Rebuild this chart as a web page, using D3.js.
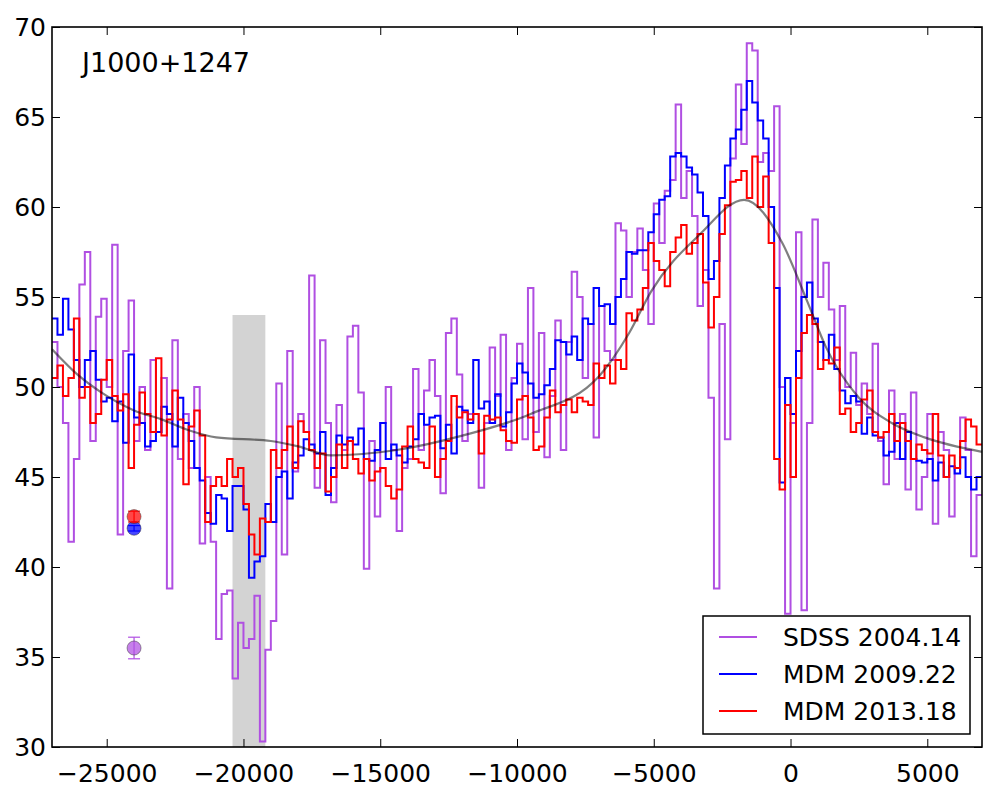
<!DOCTYPE html>
<html>
<head>
<meta charset="utf-8">
<script src="https://cdn.jsdelivr.net/npm/d3@7"></script>
<style>
    body { margin: 0; background: #fff; }
    text { font-family: "DejaVu Sans", sans-serif; fill: #000; }
</style>
</head>
<body>
<div id="chart"></div>
<script>
// velocity grid of the spectra (km/s), one value per 200 km/s bin
const binStart = -27000;
const binWidth = 200;

const sdssFlux = [
    52.5, 50, 48, 41.4, 46, 55.7, 57.5, 47, 53.9, 54.9,
    50, 57.9, 41.8, 52, 54.8, 47, 50, 46.5, 51.5, 47.5,
    50.5, 38.8, 52.6, 46, 48.5, 45.5, 50, 41.3, 45, 41.4,
    36, 38.5, 38.7, 33.8, 36.9, 35.5, 36, 38.4, 30.3, 35.4,
    37, 50.2, 40.7, 52, 45.3, 48.5, 47.5, 56.2, 44.4, 52.6,
    48, 43.6, 49, 46.5, 52.8, 53.4, 49.7, 39.9, 47, 42.8,
    48, 50, 46.5, 42, 45.5, 46, 51, 46.5, 49.8, 51.5,
    49.5, 44.1, 53, 53.8, 50.7, 47, 48.5, 48.5, 44.4, 48,
    52.2, 49.5, 52.9, 46.5, 50.5, 52.4, 47.1, 55.5, 47.5, 53,
    46.1, 49.5, 53.7, 46.5, 52.5, 56.4, 55, 50.5, 53.5, 47.2,
    54.5, 52, 51.5, 59.1, 58.7, 55, 57.5, 58.8, 56.5, 53.5,
    60.2, 58, 60.9, 61.5, 65.7, 60.5, 62, 59.5, 54.5, 56.5,
    49.4, 38.8, 53.5, 47.1, 62.7, 66.8, 63.5, 69.1, 68.7, 62.5,
    63, 62, 65.6, 50, 37.4, 48, 58.6, 37.6, 48, 59.3,
    55, 56.9, 54.3, 51.5, 54.5, 50, 51.9, 49, 50.2, 48.5,
    52.4, 47, 44.6, 49.8, 46, 48.5, 44.3, 49.7, 43.2, 45,
    48.5, 42.4, 47.5, 46.5, 42.8, 45.5, 48.3, 46.5, 40.6, 44
];

const mdm2009Flux = [
    53.8, 52.9, 54.9, 53.2, 51.5, 50, 51.5, 52, 50.4, 49.2,
    49.4, 48.1, 49.2, 46.9, 51.8, 48.3, 48, 46.7, 47, 47.5,
    48.9, 48.5, 46.7, 49.4, 48, 47, 45.5, 44.8, 43, 42.4,
    44, 43.8, 42, 44.5, 44.5, 43.2, 39.4, 40.3, 40.6, 43.5,
    42.5, 45, 45.3, 43.8, 45.8, 46.2, 47.1, 46.8, 46.3, 47.5,
    44, 45.5, 47.3, 46.8, 47.2, 46.8, 47.7, 46, 45.9, 46.5,
    48, 46, 46.8, 46.2, 45.8, 46.7, 47.1, 48.5, 47.9, 48.3,
    48.4, 46.6, 47.9, 46.3, 48.9, 48.7, 48, 51.5, 48.8, 49.2,
    48, 49.6, 47.8, 48.6, 50.2, 51.3, 50.8, 50.2, 49.4, 49.6,
    50.1, 51, 52.6, 52.5, 51.8, 52.8, 51.5, 53.8, 53.5, 55.5,
    54.5, 54.6, 53.5, 55, 56, 57.5, 57.4, 57.6, 57.6, 58.6,
    59.6, 60.4, 60.6, 62.8, 63, 62.8, 62.2, 61.8, 60.8, 59.5,
    56, 57, 60.5, 62.3, 63.8, 64.3, 65.4, 67, 65.8, 64.8,
    63.8, 60, 55.5, 44.7, 50.5, 48.5, 52, 55, 55.8, 53.8,
    52.5, 51.5, 52.9, 51, 49.8, 49.1, 49.5, 49.2, 47.4, 48.3,
    47.3, 47.2, 46.2, 46.4, 48, 46, 47.5, 46, 45.9, 45.8,
    46, 44.8, 45.8, 45, 45.6, 45.2, 46.1, 45, 44.3, 45
];

const mdm2013Flux = [
    50.5, 51.2, 49.5, 50.5, 53.8, 49.4, 50, 48, 48.5, 50.4,
    51.5, 49.5, 48.7, 49.6, 45.5, 47.9, 49.7, 48.5, 47.5, 51.6,
    47.3, 48.2, 49.8, 48.2, 44.6, 47.8, 48.7, 47.3, 42.5, 44.5,
    45, 44.5, 46, 45, 45.5, 43.5, 41.8, 40.7, 42.7, 42.5,
    46.5, 45.5, 46.5, 47.8, 45.5, 48.1, 47.5, 46.5, 45.5, 46.3,
    44.2, 45, 46.8, 45.5, 47, 46, 45.2, 46, 44.8, 45.3,
    45.5, 44.5, 43.8, 44.3, 46.7, 47.8, 46, 45.8, 45.5, 47.8,
    45, 46, 47, 49.5, 48.3, 48.6, 48.2, 48.5, 46.3, 48.4,
    48.2, 48.3, 47.6, 47, 46.9, 49.3, 49.5, 48.3, 46.5, 46.7,
    48.3, 49.8, 48.6, 49, 49.3, 48.6, 49.4, 49.2, 49, 51.3,
    50.5, 51.2, 50.2, 51.5, 51, 54.1, 53.7, 54.3, 55.5, 58,
    57, 56.5, 55.6, 57.5, 58.3, 59, 57.4, 58, 58.5, 55.8,
    53.3, 55, 58.5, 60.1, 61.4, 61.5, 62, 60.5, 62.8, 60,
    61.7, 58, 46, 44.3, 49, 45, 50.5, 53, 54, 53.5,
    51, 51.5, 51.3, 52.2, 48.5, 48.8, 47.5, 48, 49.3, 49.8,
    47.5, 47.2, 47.5, 48.5, 47, 48, 47, 46, 46.8, 46.5,
    46.3, 48.5, 46.2, 45, 46.2, 45.5, 47, 48.2, 47.8, 46.8
];

// smooth model fit, read at a few velocities
const fitVelocity = [-27000, -26000, -25200, -24000, -23000, -22000, -21000, -19000, -18000, -16800,
    -14400, -12000, -9500, -7000, -5900, -5100, -3300, -1700, -300, 600, 1300, 2500, 3700, 4900, 7000];
const fitFlux = [52.1, 50.6, 49.7, 48.7, 48.2, 47.6, 47.2, 47.0, 46.7, 46.2,
    46.5, 47.3, 48.5, 50.6, 53, 55.3, 58.5, 60.4, 58, 54.8, 52.2, 49.4, 48, 47.2, 46.4];

// continuum photometry points at one velocity
const pointVelocity = -24000;
const pointFlux = [35.5, 42.15, 42.8];
const pointErr = [0.6, 0.15, 0.3];

const seriesNames = ['SDSS 2004.14', 'MDM 2009.22', 'MDM 2013.18'];
const seriesColors = ['#b04fe2', '#0000ff', '#ff0000'];

const bandEdges = [-20400, -19200];
const bandTop = 54;

const xTicks = [-25000, -20000, -15000, -10000, -5000, 0, 5000];
const yTicks = [30, 35, 40, 45, 50, 55, 60, 65, 70];
const title = 'J1000+1247';


class SpectrumChart
{
    constructor(containerId)
    {
        this.width = 998;
        this.height = 801;
        this.left = 52;
        this.top = 27;
        this.plotWidth = 930;
        this.plotHeight = 720;

        this.x = d3.scaleLinear()
            .domain([-27000, 7000])
            .range([0, this.plotWidth]);
        this.y = d3.scaleLinear()
            .domain([30, 70])
            .range([this.plotHeight, 0]);

        this.svg = d3.select('#' + containerId)
            .append('svg')
            .attr('width', this.width)
            .attr('height', this.height);

        this.svg.append('defs')
            .append('clipPath')
            .attr('id', 'plot-clip')
            .append('rect')
            .attr('width', this.plotWidth)
            .attr('height', this.plotHeight);

        this.g = this.svg.append('g')
            .attr('transform', `translate(${this.left},${this.top})`);

        this.drawBand();
        this.drawSpectra();
        this.drawFit();
        this.drawPoints();
        this.drawAxes();
        this.drawLegend();
    }

    drawBand()
    {
        this.g.append('rect')
            .attr('x', this.x(bandEdges[0]))
            .attr('y', this.y(bandTop))
            .attr('width', this.x(bandEdges[1]) - this.x(bandEdges[0]))
            .attr('height', this.y(30) - this.y(bandTop))
            .style('fill', '#d3d3d3');
    }

    drawSpectra()
    {
        const step = d3.line()
            .x(d => this.x(d[0]))
            .y(d => this.y(d[1]))
            .curve(d3.curveStepAfter);

        const allFlux = [sdssFlux, mdm2009Flux, mdm2013Flux];
        const spectra = allFlux.map(values =>
        {
            let pts = values.map((v, i) => [binStart + i * binWidth, v]);
            pts.push([binStart + values.length * binWidth, values[values.length - 1]]);
            return pts;
        });

        this.g.append('g')
            .attr('clip-path', 'url(#plot-clip)')
            .selectAll('path')
            .data(spectra)
            .join('path')
            .attr('d', step)
            .style('fill', 'none')
            .style('stroke', (d, i) => seriesColors[i])
            .style('stroke-width', 2)
            .style('stroke-linejoin', 'miter');
    }

    drawFit()
    {
        const line = d3.line()
            .x(d => this.x(d[0]))
            .y(d => this.y(d[1]))
            .curve(d3.curveMonotoneX);

        this.g.append('path')
            .datum(fitVelocity.map((v, i) => [v, fitFlux[i]]))
            .attr('d', line)
            .style('fill', 'none')
            .style('stroke', '#000')
            .style('stroke-opacity', 0.5)
            .style('stroke-width', 2.2);
    }

    drawPoints()
    {
        const px = this.x(pointVelocity);
        const pts = this.g.append('g')
            .selectAll('g')
            .data(pointFlux)
            .join('g');

        pts.append('line')
            .attr('x1', px).attr('x2', px)
            .attr('y1', (d, i) => this.y(d - pointErr[i]))
            .attr('y2', (d, i) => this.y(d + pointErr[i]))
            .style('stroke', (d, i) => seriesColors[i])
            .style('stroke-width', 1.2);

        [-1, 1].forEach(sign =>
        {
            pts.append('line')
                .attr('x1', px - 6).attr('x2', px + 6)
                .attr('y1', (d, i) => this.y(d + sign * pointErr[i]))
                .attr('y2', (d, i) => this.y(d + sign * pointErr[i]))
                .style('stroke', (d, i) => seriesColors[i])
                .style('stroke-width', 1.2);
        });

        pts.append('circle')
            .attr('cx', px)
            .attr('cy', d => this.y(d))
            .attr('r', 7)
            .style('fill', (d, i) => seriesColors[i])
            .style('fill-opacity', 0.72)
            .style('stroke', '#333')
            .style('stroke-opacity', 0.6)
            .style('stroke-width', 0.8);
    }

    drawAxes()
    {
        const fmt = d3.format('d');
        const tick = 8;

        const bottom = this.g.append('g')
            .attr('transform', `translate(0,${this.plotHeight})`)
            .call(d3.axisBottom(this.x).tickValues(xTicks).tickFormat(fmt)
                .tickSizeInner(-tick).tickSizeOuter(0).tickPadding(17));
        const left = this.g.append('g')
            .call(d3.axisLeft(this.y).tickValues(yTicks).tickFormat(fmt)
                .tickSizeInner(-tick).tickSizeOuter(0).tickPadding(6));
        const topAxis = this.g.append('g')
            .call(d3.axisTop(this.x).tickValues(xTicks).tickFormat('')
                .tickSizeInner(-tick).tickSizeOuter(0));
        const right = this.g.append('g')
            .attr('transform', `translate(${this.plotWidth},0)`)
            .call(d3.axisRight(this.y).tickValues(yTicks).tickFormat('')
                .tickSizeInner(-tick).tickSizeOuter(0));

        [bottom, left, topAxis, right].forEach(a =>
        {
            a.attr('font-size', 25).attr('font-family', '"DejaVu Sans", sans-serif');
            a.select('.domain').remove();
            a.selectAll('.tick line').style('stroke', '#000').style('stroke-width', 1);
        });

        this.g.append('rect')
            .attr('width', this.plotWidth)
            .attr('height', this.plotHeight)
            .style('fill', 'none')
            .style('stroke', '#000')
            .style('stroke-width', 1.6);

        this.g.append('text')
            .attr('x', 30)
            .attr('y', 45)
            .style('font-size', '27px')
            .text(title);
    }

    drawLegend()
    {
        const lg = this.svg.append('g')
            .attr('transform', 'translate(703,616)');

        lg.append('rect')
            .attr('width', 267)
            .attr('height', 118)
            .style('fill', '#fff')
            .style('stroke', '#000')
            .style('stroke-width', 1.5);

        const rows = lg.selectAll('.legend-row')
            .data(seriesNames)
            .join('g')
            .classed('legend-row', true)
            .attr('transform', (d, i) => `translate(0,${21 + 37 * i})`);

        rows.append('line')
            .attr('x1', 16).attr('x2', 54)
            .style('stroke', (d, i) => seriesColors[i])
            .style('stroke-width', 2);

        rows.append('text')
            .attr('x', 80)
            .attr('dy', '0.36em')
            .style('font-size', '25px')
            .text(d => d);
    }
}

new SpectrumChart('chart');
</script>
</body>
</html>
